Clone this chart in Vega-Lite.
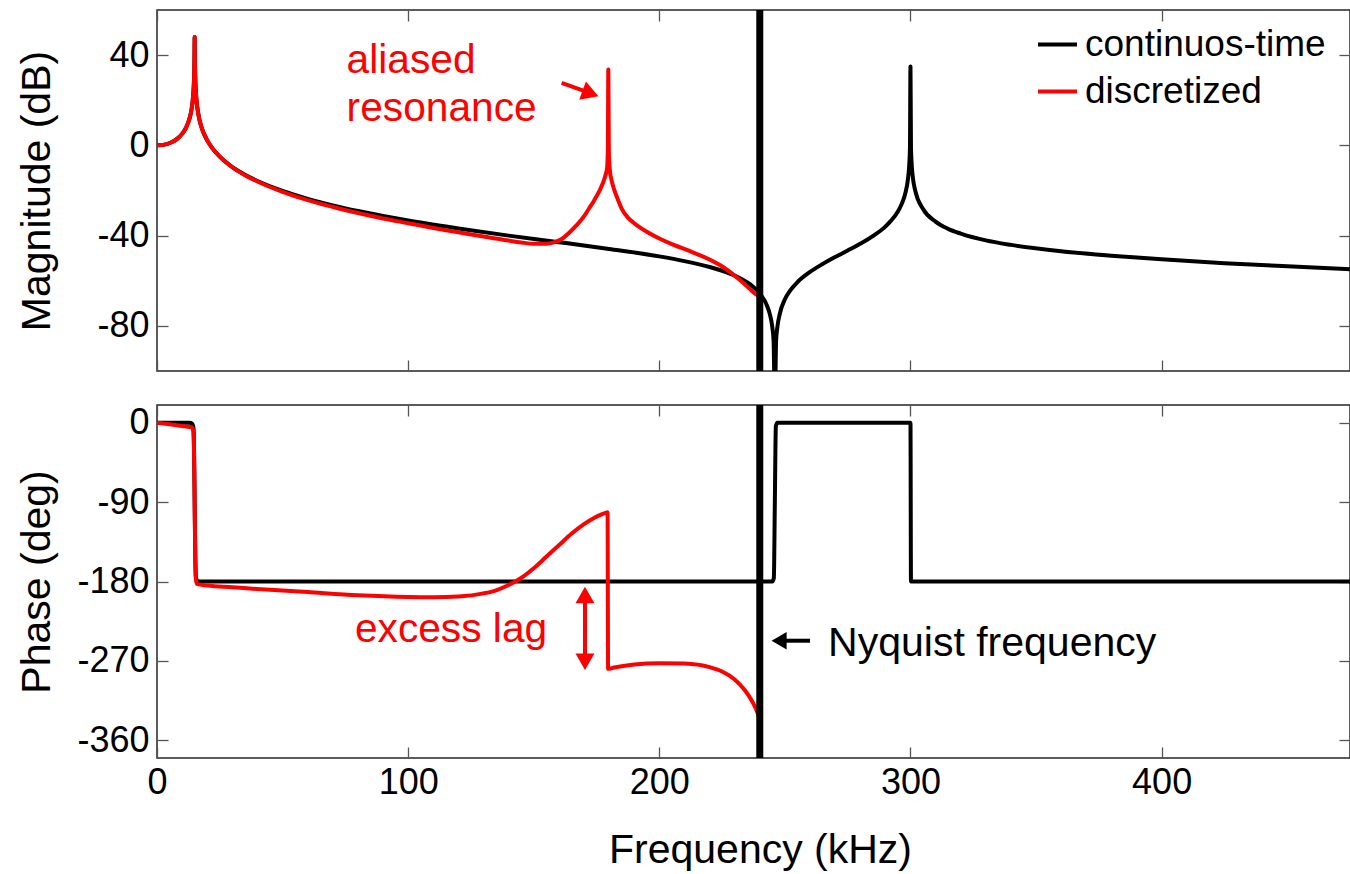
{
  "$schema": "https://vega.github.io/schema/vega-lite/v6.json",
  "background": "white",
  "padding": {"left": 16, "top": 5, "right": 0, "bottom": 0},
  "bounds": "flush",
  "spacing": 34,
  "config": {
    "font": "Liberation Sans",
    "view": {"stroke": "#262626", "strokeWidth": 1.5},
    "axis": {"grid": false, "domain": false, "labelFontSize": 36, "labelColor": "black", "titleFontSize": 41, "titleFontWeight": "normal", "titleColor": "black", "tickColor": "#555", "tickWidth": 1.3, "labelFont": "Liberation Sans", "titleFont": "Liberation Sans", "labelExpr": "'' + datum.value", "labelFlush": false},
    "legend": {"orient": "none", "legendX": 879, "legendY": 13, "title": null, "symbolType": "stroke", "symbolStrokeWidth": 4, "symbolSize": 1521, "labelFontSize": 37, "labelColor": "black", "labelFont": "Liberation Sans", "rowPadding": 7, "labelOffset": 6, "padding": 0, "labelLimit": 400}
  },
  "datasets": {
    "mag": [
      {"f": 0, "v": 0, "s": "continuos-time"}, {"f": 3, "v": 0.35, "s": "continuos-time"}, {"f": 6, "v": 1.5, "s": "continuos-time"}, {"f": 8, "v": 2.9, "s": "continuos-time"}, {"f": 10, "v": 5.1, "s": "continuos-time"}, {"f": 11, "v": 6.7, "s": "continuos-time"}, {"f": 12, "v": 8.9, "s": "continuos-time"}, {"f": 13, "v": 12.1, "s": "continuos-time"}, {"f": 13.5, "v": 14.4, "s": "continuos-time"}, {"f": 14, "v": 17.8, "s": "continuos-time"}, {"f": 14.2, "v": 19.7, "s": "continuos-time"}, {"f": 14.5, "v": 23.7, "s": "continuos-time"}, {"f": 14.7, "v": 28.0, "s": "continuos-time"}, {"f": 14.9, "v": 37.5, "s": "continuos-time"}, {"f": 15, "v": 48, "s": "continuos-time"}, {"f": 15.1, "v": 37.5, "s": "continuos-time"}, {"f": 15.3, "v": 27.9, "s": "continuos-time"}, {"f": 15.5, "v": 23.4, "s": "continuos-time"}, {"f": 15.8, "v": 19.2, "s": "continuos-time"}, {"f": 16, "v": 17.2, "s": "continuos-time"}, {"f": 16.5, "v": 13.6, "s": "continuos-time"}, {"f": 17, "v": 10.9, "s": "continuos-time"}, {"f": 18, "v": 7.1, "s": "continuos-time"}, {"f": 19, "v": 4.4, "s": "continuos-time"}, {"f": 20, "v": 2.2, "s": "continuos-time"}, {"f": 22, "v": -1.2, "s": "continuos-time"}, {"f": 25, "v": -5.0, "s": "continuos-time"}, {"f": 30, "v": -9.6, "s": "continuos-time"}, {"f": 35, "v": -13.0, "s": "continuos-time"}, {"f": 40, "v": -15.8, "s": "continuos-time"}, {"f": 50, "v": -20.2, "s": "continuos-time"}, {"f": 60, "v": -23.7, "s": "continuos-time"}, {"f": 70, "v": -26.6, "s": "continuos-time"}, {"f": 80, "v": -29.1, "s": "continuos-time"}, {"f": 90, "v": -31.3, "s": "continuos-time"}, {"f": 100, "v": -33.3, "s": "continuos-time"}, {"f": 120, "v": -36.8, "s": "continuos-time"}, {"f": 140, "v": -40.0, "s": "continuos-time"}, {"f": 160, "v": -42.9, "s": "continuos-time"}, {"f": 180, "v": -45.9, "s": "continuos-time"}, {"f": 200, "v": -49.2, "s": "continuos-time"}, {"f": 210, "v": -51.3, "s": "continuos-time"}, {"f": 220, "v": -53.9, "s": "continuos-time"}, {"f": 230, "v": -57.7, "s": "continuos-time"}, {"f": 235, "v": -60.7, "s": "continuos-time"}, {"f": 237, "v": -62.3, "s": "continuos-time"}, {"f": 240, "v": -65.6, "s": "continuos-time"}, {"f": 243, "v": -71.4, "s": "continuos-time"}, {"f": 244, "v": -74.8, "s": "continuos-time"}, {"f": 245, "v": -80.7, "s": "continuos-time"}, {"f": 245.5, "v": -86.7, "s": "continuos-time"}, {"f": 246, "v": -115, "s": "continuos-time"}, {"f": 246.5, "v": -86.6, "s": "continuos-time"}, {"f": 247, "v": -80.6, "s": "continuos-time"}, {"f": 248, "v": -74.5, "s": "continuos-time"}, {"f": 250, "v": -68.2, "s": "continuos-time"}, {"f": 252, "v": -64.5, "s": "continuos-time"}, {"f": 255, "v": -60.6, "s": "continuos-time"}, {"f": 260, "v": -56.1, "s": "continuos-time"}, {"f": 265, "v": -52.6, "s": "continuos-time"}, {"f": 270, "v": -49.5, "s": "continuos-time"}, {"f": 275, "v": -46.6, "s": "continuos-time"}, {"f": 280, "v": -43.6, "s": "continuos-time"}, {"f": 285, "v": -40.2, "s": "continuos-time"}, {"f": 290, "v": -36.0, "s": "continuos-time"}, {"f": 292, "v": -33.7, "s": "continuos-time"}, {"f": 295, "v": -29.3, "s": "continuos-time"}, {"f": 296, "v": -27.2, "s": "continuos-time"}, {"f": 297, "v": -24.6, "s": "continuos-time"}, {"f": 298, "v": -21, "s": "continuos-time"}, {"f": 299, "v": -14.9, "s": "continuos-time"}, {"f": 299.5, "v": -8.8, "s": "continuos-time"}, {"f": 299.8, "v": -0.8, "s": "continuos-time"}, {"f": 300, "v": 35, "s": "continuos-time"}, {"f": 300.2, "v": -0.8, "s": "continuos-time"}, {"f": 300.5, "v": -8.7, "s": "continuos-time"}, {"f": 301, "v": -14.7, "s": "continuos-time"}, {"f": 302, "v": -20.5, "s": "continuos-time"}, {"f": 305, "v": -28.2, "s": "continuos-time"}, {"f": 310, "v": -33.8, "s": "continuos-time"}, {"f": 315, "v": -37.0, "s": "continuos-time"}, {"f": 320, "v": -39.1, "s": "continuos-time"}, {"f": 330, "v": -42.1, "s": "continuos-time"}, {"f": 340, "v": -44.1, "s": "continuos-time"}, {"f": 360, "v": -46.9, "s": "continuos-time"}, {"f": 380, "v": -48.9, "s": "continuos-time"}, {"f": 400, "v": -50.5, "s": "continuos-time"}, {"f": 425, "v": -52.2, "s": "continuos-time"}, {"f": 450, "v": -53.6, "s": "continuos-time"}, {"f": 475, "v": -54.9, "s": "continuos-time"},
      {"f": 0, "v": 0, "s": "discretized"}, {"f": 3, "v": 0.35, "s": "discretized"}, {"f": 6, "v": 1.5, "s": "discretized"}, {"f": 8, "v": 2.9, "s": "discretized"}, {"f": 10, "v": 5.1, "s": "discretized"}, {"f": 11, "v": 6.7, "s": "discretized"}, {"f": 12, "v": 8.9, "s": "discretized"}, {"f": 13, "v": 12.1, "s": "discretized"}, {"f": 13.5, "v": 14.4, "s": "discretized"}, {"f": 14, "v": 17.8, "s": "discretized"}, {"f": 14.2, "v": 19.7, "s": "discretized"}, {"f": 14.5, "v": 23.7, "s": "discretized"}, {"f": 14.7, "v": 28.0, "s": "discretized"}, {"f": 14.9, "v": 37.5, "s": "discretized"}, {"f": 15, "v": 48, "s": "discretized"}, {"f": 15.1, "v": 37.5, "s": "discretized"}, {"f": 15.3, "v": 27.9, "s": "discretized"}, {"f": 15.5, "v": 23.4, "s": "discretized"}, {"f": 15.8, "v": 19.2, "s": "discretized"}, {"f": 16, "v": 17.2, "s": "discretized"}, {"f": 16.5, "v": 13.6, "s": "discretized"}, {"f": 17, "v": 10.9, "s": "discretized"}, {"f": 18, "v": 7.1, "s": "discretized"}, {"f": 19, "v": 4.4, "s": "discretized"}, {"f": 20, "v": 2.2, "s": "discretized"}, {"f": 22, "v": -1.2, "s": "discretized"}, {"f": 25, "v": -5.0, "s": "discretized"}, {"f": 30, "v": -9.7, "s": "discretized"}, {"f": 35, "v": -13.2, "s": "discretized"}, {"f": 40, "v": -16.0, "s": "discretized"}, {"f": 50, "v": -20.6, "s": "discretized"}, {"f": 60, "v": -24.3, "s": "discretized"}, {"f": 70, "v": -27.3, "s": "discretized"}, {"f": 80, "v": -30.0, "s": "discretized"}, {"f": 90, "v": -32.4, "s": "discretized"}, {"f": 100, "v": -34.5, "s": "discretized"}, {"f": 110, "v": -36.6, "s": "discretized"}, {"f": 120, "v": -38.5, "s": "discretized"}, {"f": 130, "v": -40.4, "s": "discretized"}, {"f": 140, "v": -42.2, "s": "discretized"}, {"f": 145, "v": -43.0, "s": "discretized"}, {"f": 150, "v": -43.6, "s": "discretized"}, {"f": 155, "v": -43.6, "s": "discretized"}, {"f": 158, "v": -43.0, "s": "discretized"}, {"f": 161, "v": -41.6, "s": "discretized"}, {"f": 164, "v": -38.8, "s": "discretized"}, {"f": 167, "v": -35.5, "s": "discretized"}, {"f": 170, "v": -31.5, "s": "discretized"}, {"f": 172, "v": -28.0, "s": "discretized"}, {"f": 174, "v": -24.5, "s": "discretized"}, {"f": 176, "v": -20.5, "s": "discretized"}, {"f": 177.5, "v": -16.8, "s": "discretized"}, {"f": 178.5, "v": -13.5, "s": "discretized"}, {"f": 179.2, "v": -10, "s": "discretized"}, {"f": 179.5, "v": -2, "s": "discretized"}, {"f": 179.7, "v": 33.6, "s": "discretized"}, {"f": 179.9, "v": -2, "s": "discretized"}, {"f": 180.3, "v": -11, "s": "discretized"}, {"f": 181, "v": -15.5, "s": "discretized"}, {"f": 182, "v": -19.5, "s": "discretized"}, {"f": 183.5, "v": -24, "s": "discretized"}, {"f": 185, "v": -28.0, "s": "discretized"}, {"f": 187.5, "v": -32, "s": "discretized"}, {"f": 190, "v": -34.5, "s": "discretized"}, {"f": 195, "v": -38.3, "s": "discretized"}, {"f": 200, "v": -41.3, "s": "discretized"}, {"f": 205, "v": -43.8, "s": "discretized"}, {"f": 212, "v": -46.8, "s": "discretized"}, {"f": 220, "v": -50.6, "s": "discretized"}, {"f": 225.5, "v": -54.0, "s": "discretized"}, {"f": 232, "v": -59.6, "s": "discretized"}, {"f": 236, "v": -63.6, "s": "discretized"}, {"f": 238, "v": -65.6, "s": "discretized"}, {"f": 240, "v": -67.0, "s": "discretized"}
    ],
    "ph": [
      {"f": 0, "v": 0, "s": "continuos-time"}, {"f": 13, "v": 0, "s": "continuos-time"}, {"f": 14, "v": -1, "s": "continuos-time"}, {"f": 14.5, "v": -5, "s": "continuos-time"}, {"f": 14.8, "v": -40, "s": "continuos-time"}, {"f": 15, "v": -90, "s": "continuos-time"}, {"f": 15.2, "v": -140, "s": "continuos-time"}, {"f": 15.5, "v": -175, "s": "continuos-time"}, {"f": 16, "v": -179, "s": "continuos-time"}, {"f": 17, "v": -180, "s": "continuos-time"}, {"f": 245, "v": -180, "s": "continuos-time"}, {"f": 245.6, "v": -176, "s": "continuos-time"}, {"f": 246, "v": -90, "s": "continuos-time"}, {"f": 246.4, "v": -4, "s": "continuos-time"}, {"f": 247, "v": 0, "s": "continuos-time"}, {"f": 300, "v": 0, "s": "continuos-time"}, {"f": 300.2, "v": -180, "s": "continuos-time"}, {"f": 475, "v": -180, "s": "continuos-time"},
      {"f": 0, "v": 0, "s": "discretized"}, {"f": 5, "v": -1.8, "s": "discretized"}, {"f": 10, "v": -3.7, "s": "discretized"}, {"f": 13, "v": -4.9, "s": "discretized"}, {"f": 14, "v": -5.5, "s": "discretized"}, {"f": 14.5, "v": -10, "s": "discretized"}, {"f": 14.8, "v": -45, "s": "discretized"}, {"f": 15, "v": -95, "s": "discretized"}, {"f": 15.2, "v": -145, "s": "discretized"}, {"f": 15.5, "v": -178, "s": "discretized"}, {"f": 16, "v": -183, "s": "discretized"}, {"f": 20, "v": -184.5, "s": "discretized"}, {"f": 30, "v": -186.5, "s": "discretized"}, {"f": 40, "v": -188.5, "s": "discretized"}, {"f": 60, "v": -192, "s": "discretized"}, {"f": 80, "v": -195.5, "s": "discretized"}, {"f": 100, "v": -197.5, "s": "discretized"}, {"f": 110, "v": -197.8, "s": "discretized"}, {"f": 120, "v": -197, "s": "discretized"}, {"f": 130, "v": -193.5, "s": "discretized"}, {"f": 135, "v": -190, "s": "discretized"}, {"f": 140, "v": -184, "s": "discretized"}, {"f": 145, "v": -176, "s": "discretized"}, {"f": 150, "v": -165, "s": "discretized"}, {"f": 155, "v": -152, "s": "discretized"}, {"f": 160, "v": -139, "s": "discretized"}, {"f": 165, "v": -126, "s": "discretized"}, {"f": 170, "v": -115, "s": "discretized"}, {"f": 174, "v": -108, "s": "discretized"}, {"f": 177, "v": -104, "s": "discretized"}, {"f": 178.8, "v": -102, "s": "discretized"}, {"f": 179.4, "v": -101.5, "s": "discretized"}, {"f": 179.6, "v": -279, "s": "discretized"}, {"f": 182, "v": -277.5, "s": "discretized"}, {"f": 185, "v": -276, "s": "discretized"}, {"f": 190, "v": -274, "s": "discretized"}, {"f": 200, "v": -272.5, "s": "discretized"}, {"f": 210, "v": -273, "s": "discretized"}, {"f": 220, "v": -277, "s": "discretized"}, {"f": 225, "v": -282, "s": "discretized"}, {"f": 230, "v": -291, "s": "discretized"}, {"f": 234, "v": -303, "s": "discretized"}, {"f": 237, "v": -316, "s": "discretized"}, {"f": 239, "v": -328, "s": "discretized"}, {"f": 240, "v": -337, "s": "discretized"}
    ]
  },
  "vconcat": [
    {
      "width": 1193,
      "height": 361,
      "resolve": {"axis": {"x": "independent", "y": "independent"}},
      "layer": [
        {
          "data": {"name": "mag"},
          "mark": {"type": "line", "strokeWidth": 4, "clip": true, "strokeJoin": "round", "interpolate": "monotone"},
          "encoding": {
            "x": {"field": "f", "type": "quantitative", "scale": {"domain": [0, 475], "nice": false, "zero": false}, "axis": {"orient": "bottom", "values": [0, 100, 200, 300, 400], "labels": false, "tickSize": -11, "title": null}},
            "y": {"field": "v", "type": "quantitative", "scale": {"domain": [-100, 60], "nice": false, "zero": false}, "axis": {"orient": "left", "values": [-80, -40, 0, 40], "tickSize": -11, "labelPadding": 19, "title": "Magnitude (dB)", "titlePadding": 38}},
            "color": {"field": "s", "type": "nominal", "scale": {"domain": ["continuos-time", "discretized"], "range": ["black", "red"]}, "legend": {}}
          }
        },
        {
          "data": {"values": [{"f": 240, "lo": -100, "hi": 60}]},
          "mark": {"type": "rule", "strokeWidth": 7, "color": "black"},
          "encoding": {
            "x": {"field": "f", "type": "quantitative", "axis": {"orient": "top", "values": [0, 100, 200, 300, 400], "labels": false, "tickSize": -11, "title": null}},
            "y": {"field": "lo", "type": "quantitative", "axis": {"orient": "right", "values": [-80, -40, 0, 40], "labels": false, "tickSize": -11, "title": null}},
            "y2": {"field": "hi"}
          }
        },
        {
          "data": {"values": [{"f": 75.5, "v": 32.1, "t": "aliased"}, {"f": 75.5, "v": 10.8, "t": "resonance"}]},
          "mark": {"type": "text", "color": "red", "fontSize": 40.7, "align": "left", "baseline": "alphabetic", "font": "Liberation Sans"},
          "encoding": {
            "x": {"field": "f", "type": "quantitative", "axis": null},
            "y": {"field": "v", "type": "quantitative", "axis": null},
            "text": {"field": "t"}
          }
        },
        {
          "data": {"values": [{"f": 161.1, "v": 27.7, "f2": 170.0, "v2": 24.2}]},
          "mark": {"type": "rule", "strokeWidth": 4, "color": "red"},
          "encoding": {
            "x": {"field": "f", "type": "quantitative", "axis": null},
            "y": {"field": "v", "type": "quantitative", "axis": null},
            "x2": {"field": "f2"},
            "y2": {"field": "v2"}
          }
        },
        {
          "data": {"values": [{"f": 172.6, "v": 23.0}]},
          "mark": {"type": "point", "shape": "triangle-right", "filled": true, "size": 380, "angle": 20, "color": "red", "opacity": 1},
          "encoding": {
            "x": {"field": "f", "type": "quantitative", "axis": null},
            "y": {"field": "v", "type": "quantitative", "axis": null}
          }
        }
      ]
    },
    {
      "width": 1193,
      "height": 353,
      "resolve": {"axis": {"x": "independent", "y": "independent"}},
      "layer": [
        {
          "data": {"name": "ph"},
          "mark": {"type": "line", "strokeWidth": 4, "clip": true, "strokeJoin": "round", "interpolate": "monotone"},
          "encoding": {
            "x": {"field": "f", "type": "quantitative", "scale": {"domain": [0, 475], "nice": false, "zero": false}, "axis": {"orient": "bottom", "values": [0, 100, 200, 300, 400], "tickSize": -11, "labelPadding": 18, "title": "Frequency (kHz)", "titlePadding": 30, "titleX": 603}},
            "y": {"field": "v", "type": "quantitative", "scale": {"domain": [-380, 20], "nice": false, "zero": false}, "axis": {"orient": "left", "values": [-360, -270, -180, -90, 0], "tickSize": -11, "labelPadding": 19, "title": "Phase (deg)", "titlePadding": 18}},
            "color": {"field": "s", "type": "nominal", "scale": {"domain": ["continuos-time", "discretized"], "range": ["black", "red"]}}
          }
        },
        {
          "data": {"values": [{"f": 240, "lo": -380, "hi": 20}]},
          "mark": {"type": "rule", "strokeWidth": 7, "color": "black"},
          "encoding": {
            "x": {"field": "f", "type": "quantitative", "axis": {"orient": "top", "values": [0, 100, 200, 300, 400], "labels": false, "tickSize": -11, "title": null}},
            "y": {"field": "lo", "type": "quantitative", "axis": {"orient": "right", "values": [-360, -270, -180, -90, 0], "labels": false, "tickSize": -11, "title": null}},
            "y2": {"field": "hi"}
          }
        },
        {
          "data": {"values": [{"f": 78.8, "v": -248.2, "t": "excess lag"}]},
          "mark": {"type": "text", "color": "red", "fontSize": 40.7, "align": "left", "baseline": "alphabetic", "font": "Liberation Sans"},
          "encoding": {
            "x": {"field": "f", "type": "quantitative", "axis": null},
            "y": {"field": "v", "type": "quantitative", "axis": null},
            "text": {"field": "t"}
          }
        },
        {
          "data": {"values": [{"f": 267.2, "v": -264.4, "t": "Nyquist frequency"}]},
          "mark": {"type": "text", "color": "black", "fontSize": 41, "align": "left", "baseline": "alphabetic", "font": "Liberation Sans"},
          "encoding": {
            "x": {"field": "f", "type": "quantitative", "axis": null},
            "y": {"field": "v", "type": "quantitative", "axis": null},
            "text": {"field": "t"}
          }
        },
        {
          "data": {"values": [{"f": 170.4, "v": -195.2, "v2": -271.0}]},
          "mark": {"type": "rule", "strokeWidth": 4, "color": "red"},
          "encoding": {
            "x": {"field": "f", "type": "quantitative", "axis": null},
            "y": {"field": "v", "type": "quantitative", "axis": null},
            "y2": {"field": "v2"}
          }
        },
        {
          "data": {"values": [{"f": 170.4, "v": -195.2}]},
          "mark": {"type": "point", "shape": "triangle-up", "filled": true, "size": 360, "color": "red", "opacity": 1},
          "encoding": {
            "x": {"field": "f", "type": "quantitative", "axis": null},
            "y": {"field": "v", "type": "quantitative", "axis": null}
          }
        },
        {
          "data": {"values": [{"f": 170.4, "v": -271.0}]},
          "mark": {"type": "point", "shape": "triangle-down", "filled": true, "size": 360, "color": "red", "opacity": 1},
          "encoding": {
            "x": {"field": "f", "type": "quantitative", "axis": null},
            "y": {"field": "v", "type": "quantitative", "axis": null}
          }
        },
        {
          "data": {"values": [{"f": 247.7, "v": -247.1, "f2": 260.0}]},
          "mark": {"type": "rule", "strokeWidth": 4, "color": "black"},
          "encoding": {
            "x": {"field": "f", "type": "quantitative", "axis": null},
            "y": {"field": "v", "type": "quantitative", "axis": null},
            "x2": {"field": "f2"}
          }
        },
        {
          "data": {"values": [{"f": 247.7, "v": -247.1}]},
          "mark": {"type": "point", "shape": "triangle-left", "filled": true, "size": 300, "color": "black", "opacity": 1},
          "encoding": {
            "x": {"field": "f", "type": "quantitative", "axis": null},
            "y": {"field": "v", "type": "quantitative", "axis": null}
          }
        }
      ]
    }
  ]
}
